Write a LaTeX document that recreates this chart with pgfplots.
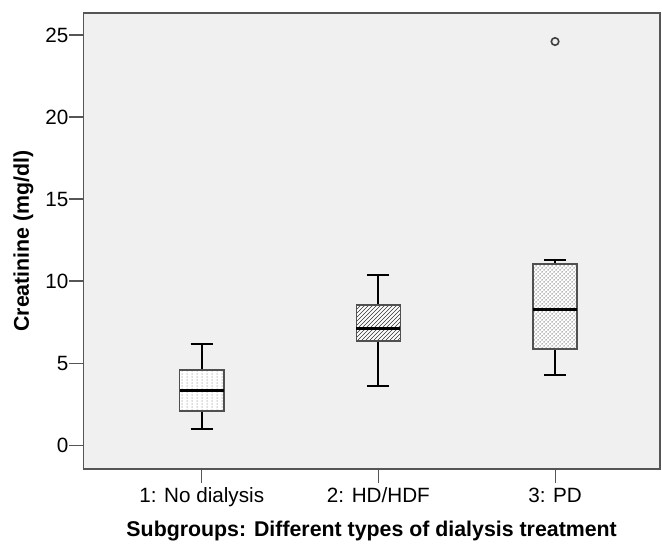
\documentclass[border=0pt]{standalone}
\usepackage{fontspec}
\setmainfont{Liberation Sans}
\usepackage{pgfplots}
\pgfplotsset{compat=1.18}
\usepgfplotslibrary{statistics}
\usetikzlibrary{patterns}

\definecolor{bgc}{HTML}{F0F0F0}
\definecolor{framec}{HTML}{555555}
\definecolor{boxc}{HTML}{505050}

% columns of small dots, like the SPSS fill of the first box
\pgfdeclarepatternformonly{vdots}{\pgfpointorigin}{\pgfpoint{3.75pt}{2.25pt}}{\pgfpoint{3.75pt}{2.25pt}}{%
  \pgfpathrectangle{\pgfpoint{1.5pt}{0.5pt}}{\pgfpoint{0.75pt}{0.9pt}}%
  \pgfusepath{fill}}

\begin{document}
\begin{tikzpicture}
\begin{axis}[
    scale only axis,
    width=432.5pt, height=342pt,
    xmin=0.33, xmax=3.594, ymin=-1.46, ymax=26.34,
    axis background/.style={fill=bgc},
    axis line style={framec, line width=1pt},
    xtick={1,2,3},
    xticklabels={1: No dialysis, 2: HD/HDF, 3: PD},
    ytick={0,5,...,25},
    tick align=outside, xtick pos=bottom, ytick pos=left,
    major tick length=10.5pt,
    tick style={framec, line width=0.8pt},
    ticklabel style={font=\fontsize{15.5}{17}\selectfont},
    yticklabel style={inner xsep=0.5pt},
    /pgf/number format/assume math mode=true,
    xlabel={Subgroups: Different types of dialysis treatment},
    ylabel={Creatinine (mg/dl)},
    every axis x label/.style={at={(axis description cs:0.5,-0.149)}, anchor=base,
        font=\fontsize{16}{18}\selectfont\bfseries},
    every axis y label/.style={at={(axis description cs:-0.104,0.5)}, rotate=90, anchor=center,
        font=\fontsize{16}{18}\selectfont\bfseries},
    boxplot/draw direction=y,
    boxplot/box extend=0.25,
    boxplot/whisker extend=0.125,
    boxplot/every median/.style={black, line width=2.2pt},
    boxplot/every whisker/.style={black, line width=1.5pt},
]
% 1: No dialysis
\addplot[mark=none, draw=black, line width=1.5pt,
    boxplot/every box/.style={draw=boxc, line width=1.1pt, fill=white, postaction={pattern=vdots, pattern color=black!55}},
    boxplot prepared={median=3.33, upper quartile=4.57, lower quartile=2.09,
        upper whisker=6.16, lower whisker=0.98, draw position=1}]
    coordinates {};
% 2: HD/HDF
\addplot[mark=none, draw=black, line width=1.5pt,
    boxplot/every box/.style={draw=boxc, line width=1.1pt, fill=white, postaction={pattern=north east lines, pattern color=black!80}},
    boxplot prepared={median=7.13, upper quartile=8.54, lower quartile=6.34,
        upper whisker=10.35, lower whisker=3.6, draw position=2}]
    coordinates {};
% 3: PD, with one outlier
\addplot[draw=black, line width=1.5pt,
    mark=o, mark size=2.8pt, mark options={draw=black!75, fill=white, line width=1.2pt},
    boxplot/every box/.style={draw=boxc, line width=1.1pt, fill=white, postaction={pattern=crosshatch dots, pattern color=black!65}},
    boxplot prepared={median=8.25, upper quartile=11.04, lower quartile=5.87,
        upper whisker=11.26, lower whisker=4.27, draw position=3}]
    table[row sep=\\, y index=0] {24.6\\};
\end{axis}
\path ([xshift=-62.5pt, yshift=-54pt]current axis.south west)
    rectangle ([xshift=1.5pt, yshift=9.75pt]current axis.north east);
\end{tikzpicture}
\end{document}
